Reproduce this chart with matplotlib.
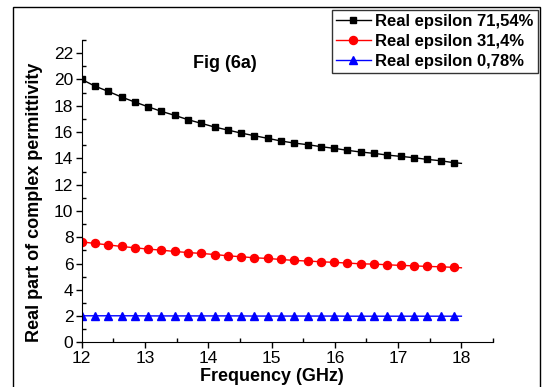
import numpy as np
import matplotlib
matplotlib.use("Agg")
import matplotlib.pyplot as plt
from matplotlib.patches import Rectangle
from matplotlib.ticker import MultipleLocator

plt.rcParams["font.family"] = ["Liberation Sans", "DejaVu Sans"]

# frequency points (GHz); the last point (18.0) closes the curve without a marker
freq = [12.00, 12.21, 12.42, 12.63, 12.84, 13.05, 13.26, 13.47, 13.68, 13.89,
        14.10, 14.31, 14.52, 14.73, 14.94, 15.15, 15.36, 15.57, 15.78, 15.99,
        16.20, 16.41, 16.62, 16.83, 17.04, 17.25, 17.46, 17.67, 17.88, 18.00]

eps_7154 = [20.00, 19.49, 19.09, 18.66, 18.28, 17.92, 17.57, 17.27, 16.94, 16.66,
            16.38, 16.15, 15.92, 15.72, 15.52, 15.32, 15.16, 15.04, 14.89, 14.76,
            14.61, 14.48, 14.38, 14.25, 14.15, 14.05, 13.92, 13.82, 13.67, 13.62]
eps_314 = [7.65, 7.53, 7.42, 7.30, 7.20, 7.10, 7.02, 6.92, 6.84, 6.77,
           6.69, 6.59, 6.52, 6.44, 6.39, 6.31, 6.24, 6.19, 6.14, 6.09,
           6.04, 5.98, 5.96, 5.91, 5.86, 5.83, 5.78, 5.76, 5.71, 5.68]
eps_078 = [2.03, 2.03, 2.03, 2.03, 2.03, 2.02, 2.02, 2.02, 2.02, 2.02,
           2.02, 2.02, 2.02, 2.01, 2.01, 2.01, 2.01, 2.01, 2.01, 2.01,
           2.00, 2.00, 2.00, 2.00, 2.00, 2.00, 2.00, 2.00, 2.00, 2.00]

labels = ["Real epsilon 71,54%", "Real epsilon 31,4%", "Real epsilon 0,78%"]

fig = plt.figure(figsize=(5.43, 3.87), dpi=100)
ax = fig.add_axes([0.1505, 0.115, 0.7575, 0.7817])

mk = list(range(len(freq) - 1))
ax.plot(freq, eps_7154, "-", color="black", lw=1, marker="s", ms=5,
        markevery=mk, label=labels[0])
ax.plot(freq, eps_314, "-", color="red", lw=1, marker="o", ms=5.8,
        markevery=mk, label=labels[1])
ax.plot(freq, eps_078, "-", color="blue", lw=1, marker="^", ms=5.8,
        markevery=mk, label=labels[2])

ax.set_xlim(12, 18.5)
ax.set_ylim(0, 23)
ax.xaxis.set_minor_locator(MultipleLocator(0.5))
ax.yaxis.set_major_locator(MultipleLocator(2))
ax.yaxis.set_minor_locator(MultipleLocator(1))
ax.set_xticks([12, 13, 14, 15, 16, 17, 18])
ax.tick_params(which="major", direction="out", length=4, width=1, labelsize=12.5, pad=2)
ax.tick_params(which="minor", direction="in", length=3, width=1)
for s in ["top", "right"]:
    ax.spines[s].set_visible(False)

ax.set_xlabel("Frequency (GHz)", fontsize=13, fontweight="bold", labelpad=1)
ax.xaxis.set_label_coords(3 / 6.5, -0.085)
ax.set_ylabel("Real part of complex permittivity", fontsize=13, fontweight="bold")
ax.yaxis.set_label_coords(-0.093, 0.465)
ax.text(14.26, 21.2, "Fig (6a)", fontsize=13, fontweight="bold", ha="center", va="center")

leg = fig.legend(loc="upper left", bbox_to_anchor=(0.611, 0.974),
                 prop={"weight": "bold", "size": 12}, frameon=True, fancybox=False,
                 handlelength=2.1, handletextpad=0.25, borderpad=0.25,
                 labelspacing=0.3, borderaxespad=0)
leg.get_frame().set_edgecolor("black")
leg.get_frame().set_linewidth(1)

# outer frame around the figure
fig.patches.append(Rectangle((13 / 543, -0.1), (540 - 13) / 543, 1.1 - 7 / 387,
                             transform=fig.transFigure, fill=False,
                             edgecolor="black", lw=1))

fig.savefig("out.png", dpi=100)
